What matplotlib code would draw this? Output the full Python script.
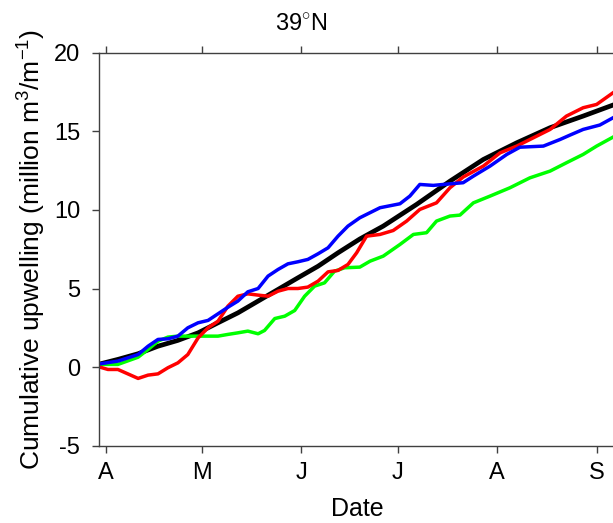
import numpy as np
import matplotlib.pyplot as plt

plt.rcParams['font.family'] = ['Liberation Sans', 'DejaVu Sans']
plt.rcParams['mathtext.fontset'] = 'custom'
plt.rcParams['mathtext.rm'] = 'Liberation Sans'
plt.rcParams['mathtext.it'] = 'Liberation Sans'
plt.rcParams['axes.unicode_minus'] = False


# DATA (day of year, cumulative upwelling in million m3/m)

black_day = [89.2, 94.8, 101.1, 107.3, 113.5, 119.8, 126.0, 132.2, 138.5, 144.7, 150.9,
             157.2, 163.4, 170.2, 177.5, 187.9, 198.3, 208.7, 219.1, 229.5, 239.8, 249.1]
black_val = [0.2, 0.49, 0.85, 1.33, 1.7, 2.18, 2.82, 3.45, 4.2, 4.94, 5.68,
             6.42, 7.27, 8.15, 8.97, 10.35, 11.83, 13.21, 14.27, 15.23, 15.97, 16.67]

blue_day = [89.2, 94.8, 101.1, 104.2, 107.3, 110.4, 113.5, 116.6, 119.8, 122.9, 126.0,
            129.1, 132.2, 135.3, 138.5, 141.6, 144.7, 147.8, 150.9, 154.0, 157.2, 160.3,
            163.4, 166.5, 170.2, 176.5, 182.7, 185.8, 188.9, 193.1, 198.3, 202.4, 205.6,
            210.8, 216.0, 220.1, 227.4, 232.6, 235.7, 239.8, 245.0, 249.1]
blue_val = [0.21, 0.38, 0.8, 1.33, 1.76, 1.8, 1.97, 2.5, 2.82, 2.97, 3.39,
            3.81, 4.2, 4.79, 5.0, 5.79, 6.21, 6.57, 6.7, 6.85, 7.21, 7.59,
            8.33, 8.97, 9.5, 10.14, 10.39, 10.88, 11.62, 11.56, 11.66, 11.73, 12.15,
            12.79, 13.53, 13.99, 14.06, 14.48, 14.76, 15.12, 15.4, 15.86]

red_day = [89.2, 91.7, 94.8, 97.9, 101.1, 104.2, 107.3, 110.4, 113.5, 116.6, 119.8,
           122.9, 126.0, 129.1, 132.2, 135.3, 138.5, 141.6, 144.7, 147.8, 150.9, 154.0,
           157.2, 160.3, 163.4, 166.5, 169.2, 172.3, 176.5, 180.6, 184.8, 188.9, 194.1,
           198.3, 202.4, 208.7, 213.9, 219.1, 224.3, 229.5, 234.6, 239.8, 244.0, 249.1]
red_val = [0.0, -0.15, -0.15, -0.43, -0.72, -0.51, -0.43, -0.04, 0.27, 0.8, 1.86,
           2.5, 2.92, 3.88, 4.51, 4.66, 4.58, 4.51, 4.83, 5.0, 5.0, 5.09,
           5.47, 6.06, 6.15, 6.53, 7.27, 8.33, 8.44, 8.69, 9.29, 10.03, 10.45,
           11.41, 12.09, 12.79, 13.63, 14.06, 14.59, 15.12, 15.97, 16.5, 16.71, 17.45]

green_day = [89.2, 94.8, 101.1, 104.2, 107.3, 110.4, 113.5, 119.8, 126.0, 129.1, 132.2,
             135.3, 138.5, 140.5, 143.7, 146.8, 149.9, 153.0, 156.1, 159.2, 162.3, 165.5,
             170.2, 173.4, 177.5, 182.7, 186.9, 191.0, 194.1, 198.3, 201.4, 205.6, 210.8,
             217.0, 223.2, 229.5, 234.6, 239.8, 244.0, 249.1]
green_val = [0.17, 0.17, 0.63, 1.12, 1.65, 1.91, 1.97, 1.97, 1.97, 2.08, 2.18,
             2.29, 2.12, 2.33, 3.09, 3.24, 3.6, 4.51, 5.15, 5.36, 6.1, 6.32,
             6.36, 6.74, 7.06, 7.8, 8.44, 8.55, 9.29, 9.61, 9.67, 10.45, 10.88,
             11.41, 12.04, 12.47, 13.0, 13.53, 14.06, 14.63]

month_days = [91, 121, 152, 182, 213, 244]
month_labels = ['A', 'M', 'J', 'J', 'A', 'S']
y_ticks = [-5, 0, 5, 10, 15, 20]


# PLOT

fig = plt.figure(figsize=(6.13, 5.23), dpi=100)
ax = fig.add_axes([0.1623, 0.1478, 0.8424, 0.7514])

ax.plot(black_day, black_val, color='black', linewidth=3.4)
ax.plot(green_day, green_val, color='#00ff00', linewidth=2.5)
ax.plot(red_day, red_val, color='#ff0000', linewidth=2.5)
ax.plot(blue_day, blue_val, color='#0000ff', linewidth=2.5)

ax.set_xlim(89.07, 250)
ax.set_ylim(-5, 20)
ax.set_xticks(month_days)
ax.set_xticklabels(month_labels)
ax.set_yticks(y_ticks)

ax.tick_params(direction='out', length=5, width=1, color='#404040',
               labelsize=17, top=True, right=True)
ax.tick_params(axis='y', pad=9)
ax.tick_params(axis='x', pad=7)
for side in ['left', 'right', 'top', 'bottom']:
    ax.spines[side].set_color('#404040')
    ax.spines[side].set_linewidth(1)

ax.set_xlabel('Date', fontsize=18, labelpad=9)
ax.set_ylabel('Cumulative upwelling (million m$^3$/m$^{-1}$)', fontsize=19, labelpad=4)
ax.set_title('39$^{\\circ}$N', fontsize=17, x=(301 - 99.5) / 516.4, pad=16)

fig.savefig('out.png', dpi=100)
